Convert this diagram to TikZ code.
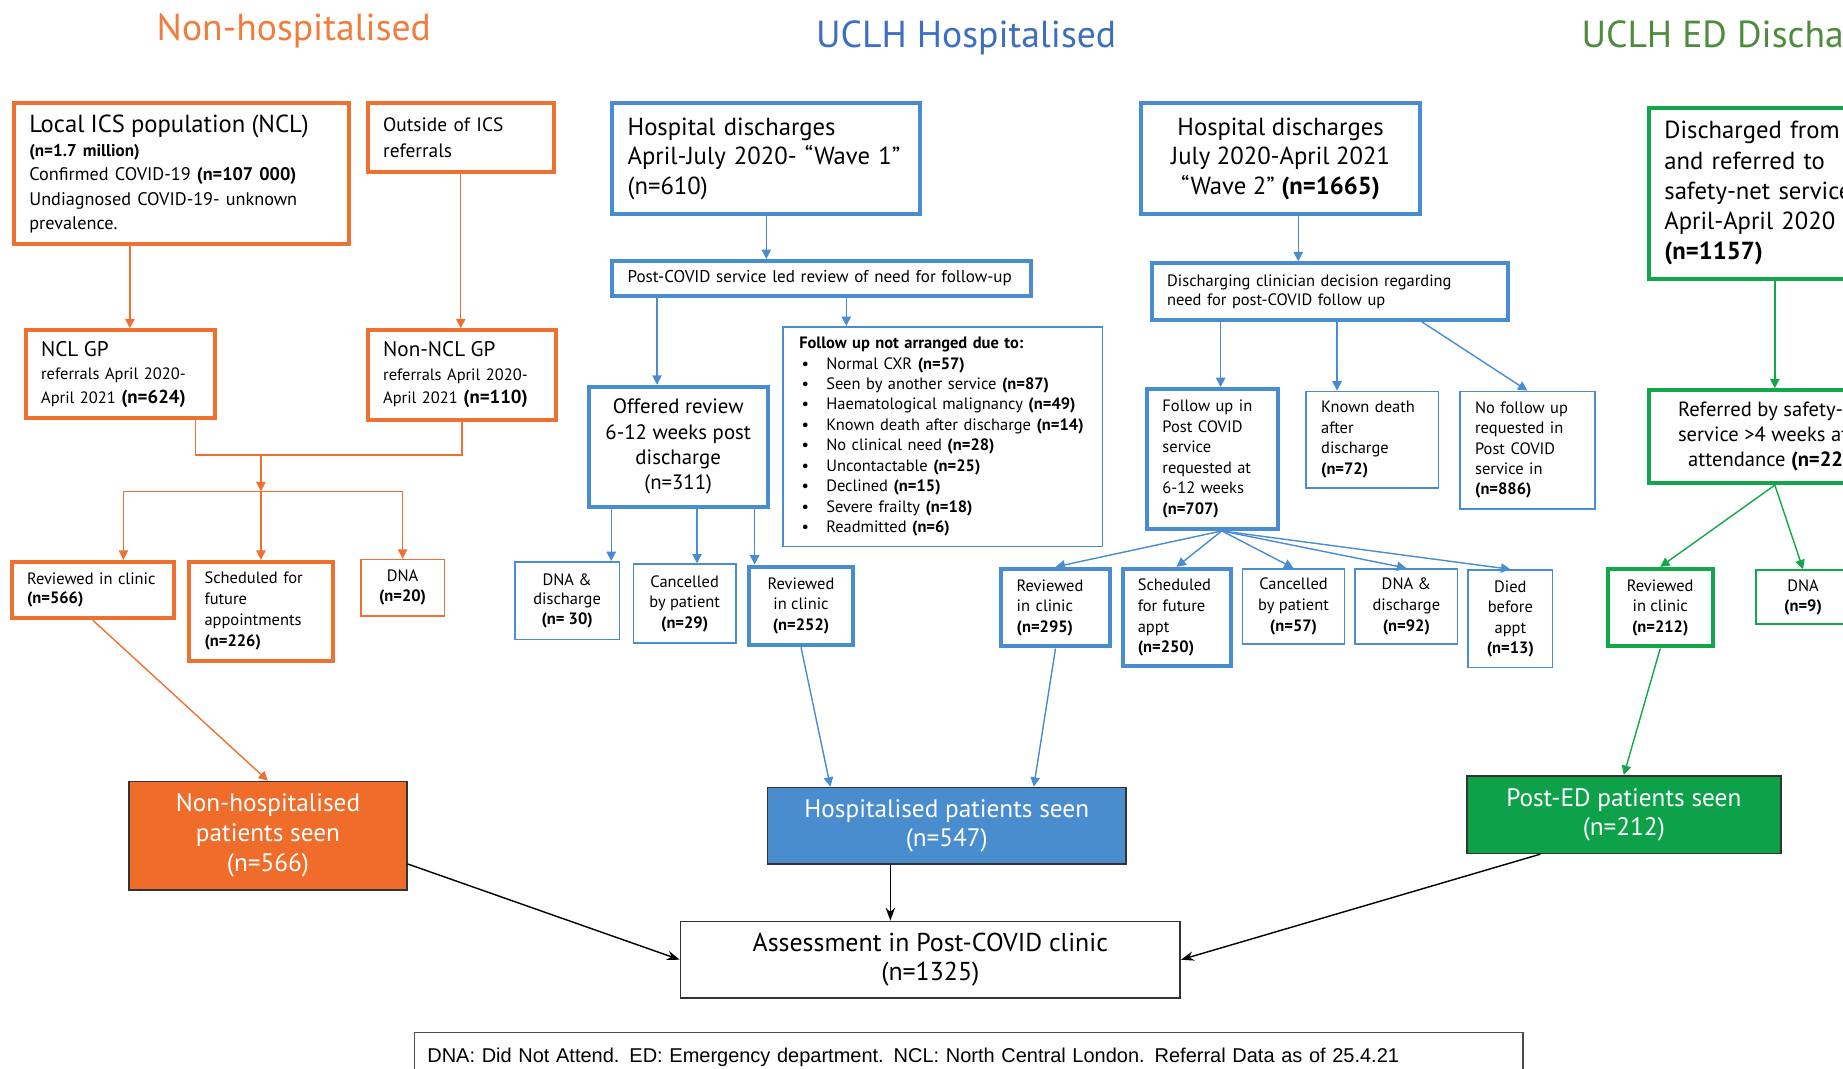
\documentclass[tikz,border=0pt]{standalone}
\usepackage{fontspec}
\setmainfont{PT Sans}
\newfontfamily\notefont{Liberation Sans}
\usetikzlibrary{arrows.meta, positioning}
\definecolor{nhOrange}{HTML}{EE7131}
\definecolor{nhTitle}{HTML}{F07D3C}
\definecolor{seenOrange}{HTML}{F06C2A}
\definecolor{uhBlue}{HTML}{4A8CD0}
\definecolor{uhTitle}{HTML}{3C6EC2}
\definecolor{seenBlue}{HTML}{4A8DCF}
\definecolor{edGreen}{HTML}{12A84A}
\definecolor{edTitle}{HTML}{4E8B3C}
\definecolor{seenGreen}{HTML}{0DA24A}
\newcommand{\setfs}[2]{\fontsize{#1}{#2}\selectfont}
\tikzset{hbox/.style={draw=#1, line width=3.4pt, fill=white, inner xsep=13pt, inner ysep=0pt},
    lbox/.style={draw=#1, line width=1.3pt, fill=white, inner xsep=13pt, inner ysep=0pt},
    mid/.style={align=center, inner xsep=3pt},
    seenbox/.style={draw=black!80, line width=1.4pt, fill=#1, text=white, align=center, font=\setfs{21.5}{25}},
    flow/.style={draw=#1, line width=1.2pt, -{Triangle[length=8pt,width=8pt]}},
    bare/.style={draw=#1, line width=1.2pt},
    tosum/.style={draw=black, line width=1.2pt, -{Stealth[length=11pt,width=8pt]}},
    headtxt/.style={font=\setfs{32}{34}}}

\begin{document}
\begin{tikzpicture}[x=1pt, y=-1pt]
                 \useasboundingbox (0,0) rectangle (1568,909);
                 \clip (0,0) rectangle (1568,909);

                 \node[headtxt, text=nhTitle] (tnh) at (250,26) {Non-hospitalised};
                 \node[headtxt, text=uhTitle] (tuh) at (822,32) {UCLH Hospitalised};
                 \node[headtxt, text=edTitle, anchor=west] (ted) at (1342,32) {UCLH ED Discharged};

                 % non-hospitalised
                 \node[hbox=nhOrange, minimum width=285, minimum height=120, text width=259pt, align=left, font=\setfs{15.5}{20.5}] (ics) at (154.5,148)
                    {{\setfs{21}{24}Local ICS population (NCL)}\\{\setfs{14.5}{20}\textbf{(n=1.7 million)}}\\Confirmed COVID-19 \textbf{(n=107 000)}\\Undiagnosed COVID-19- unknown\\prevalence.};
                 \node[hbox=nhOrange, minimum width=158, minimum height=58, text width=132pt, align=left, font=\setfs{16.5}{22}] (outside) at (392,117) {Outside of ICS\\referrals};
                 \node[hbox=nhOrange, minimum width=161, minimum height=75, text width=135pt, align=left, font=\setfs{14}{20}] (nclgp) at (102.5,318.5)
                    {{\setfs{18}{20}NCL GP}\\referrals April 2020-\\April 2021 {\setfs{16}{20}\textbf{(n=624)}}};
                 \node[hbox=nhOrange, minimum width=160, minimum height=76, text width=134pt, align=left, font=\setfs{14}{20}] (nonncl) at (393,319)
                    {{\setfs{18}{20}Non-NCL GP}\\referrals April 2020-\\April 2021 {\setfs{16}{20}\textbf{(n=110)}}};
                 \node[hbox=nhOrange, minimum width=138, minimum height=48, text width=112pt, align=left, font=\setfs{14}{16.5}] (revnh) at (79,502) {Reviewed in clinic\\\textbf{(n=566)}};
                 \node[hbox=nhOrange, minimum width=122, minimum height=84, text width=96pt, align=left, font=\setfs{14}{18}] (futnh) at (222,520) {Scheduled for\\future\\appointments\\\textbf{(n=226)}};
                 \node[lbox=nhOrange, mid, minimum width=71, minimum height=48, font=\setfs{14}{17}] (dnanh) at (342.5,500) {DNA\\\textbf{(n=20)}};
                 \node[seenbox=seenOrange, minimum width=236, minimum height=92, font=\setfs{21.5}{25.5}] (nhseen) at (228,711) {Non-hospitalised\\patients seen\\(n=566)};

                 \coordinate (join) at (222,387);
                 \coordinate (split) at (222,418);
                 \draw[flow=nhOrange] ([xshift=-44pt]ics.south) -- ([xshift=-44pt]ics.south |- nclgp.north);
                 \draw[flow=nhOrange] (outside.south) -- (outside.south |- nonncl.north);
                 \draw[bare=nhOrange] ([xshift=64pt]nclgp.south) |- (join) -| (nonncl.south);
                 \draw[flow=nhOrange] (join) -- (split);
                 \draw[bare=nhOrange] ([xshift=26pt]revnh.north |- split) -- (split -| dnanh.north);
                 \draw[flow=nhOrange] ([xshift=26pt]revnh.north |- split) -- ([xshift=26pt]revnh.north);
                 \draw[flow=nhOrange] (split) -- (split |- futnh.north);
                 \draw[flow=nhOrange] (split -| dnanh.north) -- (dnanh.north);
                 \draw[flow=nhOrange] (revnh.south) -- (nhseen.north);

                 % wave 1
                 \node[hbox=uhBlue, minimum width=262, minimum height=94, text width=236pt, align=left, font=\setfs{21}{25}] (wave1) at (652,135)
                    {Hospital discharges\\April-July 2020- “Wave 1”\\(n=610)};
                 \node[hbox=uhBlue, minimum width=356, minimum height=30, text width=330pt, align=left, font=\setfs{14.5}{16}] (svcrev) at (699,237) {Post-COVID service led review of need for follow-up};
                 \node[hbox=uhBlue, mid, minimum width=152, minimum height=102, font=\setfs{17.7}{21.5}] (offer) at (577,380) {Offered review\\6-12 weeks post\\discharge\\(n=311)};
                 \node[lbox=uhBlue, minimum width=272, minimum height=187, text width=244pt, align=left, font=\setfs{14}{17.4}] (notarr) at (802,371.5)
                    {\textbf{Follow up not arranged due to:}\\
                     \makebox[23pt][l]{\hspace{2pt}\textbullet}Normal CXR \textbf{(n=57)}\\
                     \makebox[23pt][l]{\hspace{2pt}\textbullet}Seen by another service \textbf{(n=87)}\\
                     \makebox[23pt][l]{\hspace{2pt}\textbullet}Haematological malignancy \textbf{(n=49)}\\
                     \makebox[23pt][l]{\hspace{2pt}\textbullet}Known death after discharge \textbf{(n=14)}\\
                     \makebox[23pt][l]{\hspace{2pt}\textbullet}No clinical need \textbf{(n=28)}\\
                     \makebox[23pt][l]{\hspace{2pt}\textbullet}Uncontactable \textbf{(n=25)}\\
                     \makebox[23pt][l]{\hspace{2pt}\textbullet}Declined \textbf{(n=15)}\\
                     \makebox[23pt][l]{\hspace{2pt}\textbullet}Severe frailty \textbf{(n=18)}\\
                     \makebox[23pt][l]{\hspace{2pt}\textbullet}Readmitted \textbf{(n=6)}};
                 \node[lbox=uhBlue, mid, minimum width=89, minimum height=66, font=\setfs{14}{16.5}] (dnaA) at (482.5,511) {DNA \&\\discharge\\\textbf{(n= 30)}};
                 \node[lbox=uhBlue, mid, minimum width=87, minimum height=67, font=\setfs{14}{17.5}] (cancA) at (582.5,513.5) {Cancelled\\by patient\\\textbf{(n=29)}};
                 \node[hbox=uhBlue, mid, minimum width=89, minimum height=67, font=\setfs{14}{17.5}] (revA) at (681.5,515.5) {Reviewed\\in clinic\\\textbf{(n=252)}};
                 \node[seenbox=seenBlue, minimum width=305, minimum height=65] (hseen) at (805.5,702.5) {Hospitalised patients seen\\(n=547)};

                 \draw[flow=uhBlue] (wave1.south) -- (wave1.south |- svcrev.north);
                 \draw[flow=uhBlue] ([xshift=-140pt]svcrev.south) -- ([xshift=-140pt]svcrev.south |- offer.north);
                 \draw[flow=uhBlue] ([xshift=21pt]svcrev.south) -- ([xshift=21pt]svcrev.south |- notarr.north);
                 \draw[flow=uhBlue] ([xshift=-57pt]offer.south) -- ([xshift=-57pt]offer.south |- dnaA.north);
                 \draw[flow=uhBlue] ([xshift=16pt]offer.south) -- ([xshift=16pt]offer.south |- cancA.north);
                 \draw[flow=uhBlue] ([xshift=65pt]offer.south) -- ([xshift=65pt]offer.south |- revA.north);
                 \draw[flow=uhBlue] (revA.south) -- ([xshift=-99pt]hseen.north);

                 % wave 2
                 \node[hbox=uhBlue, mid, minimum width=237, minimum height=94, font=\setfs{21}{25}] (wave2) at (1089.5,135)
                    {Hospital discharges\\July 2020-April 2021\\“Wave 2” \textbf{(n=1665)}};
                 \node[hbox=uhBlue, minimum width=303, minimum height=48, text width=277pt, align=left, font=\setfs{14}{16}] (decide) at (1131.5,248)
                    {Discharging clinician decision regarding\\need for post-COVID follow up};
                 \node[hbox=uhBlue, minimum width=111, minimum height=119, text width=85pt, align=left, font=\setfs{14}{17.5}] (fup) at (1031.5,390.5)
                    {Follow up in\\Post COVID\\service\\requested at\\6-12 weeks\\\textbf{(n=707)}};
                 \node[lbox=uhBlue, minimum width=113, minimum height=82, text width=87pt, align=left, font=\setfs{14}{17.7}] (death) at (1167.5,374) {Known death\\after\\discharge\\\textbf{(n=72)}};
                 \node[lbox=uhBlue, minimum width=115, minimum height=100, text width=89pt, align=left, font=\setfs{14}{17.3}] (nofup) at (1299.5,383) {No follow up\\requested in\\Post COVID\\service in\\\textbf{(n=886)}};
                 \node[hbox=uhBlue, minimum width=92, minimum height=66, text width=66pt, align=left, font=\setfs{14}{17.5}] (revB) at (898,517) {Reviewed\\in clinic\\\textbf{(n=295)}};
                 \node[hbox=uhBlue, minimum width=92, minimum height=83, text width=66pt, align=left, font=\setfs{14}{17.7}] (schedB) at (1001,525.5) {Scheduled\\for future\\appt\\\textbf{(n=250)}};
                 \node[lbox=uhBlue, mid, minimum width=87, minimum height=64, font=\setfs{14}{17.5}] (cancB) at (1100.5,516) {Cancelled\\by patient\\\textbf{(n=57)}};
                 \node[lbox=uhBlue, mid, minimum width=87, minimum height=64, font=\setfs{14}{17.5}] (dnaB) at (1196.5,516) {DNA \&\\discharge\\\textbf{(n=92)}};
                 \node[lbox=uhBlue, mid, minimum width=72, minimum height=83, font=\setfs{14}{17.5}] (diedB) at (1285,526.5) {Died\\before\\appt\\\textbf{(n=13)}};

                 \draw[flow=uhBlue] ([xshift=15pt]wave2.south) -- ([xshift=15pt]wave2.south |- decide.north);
                 \draw[flow=uhBlue] ([xshift=-93pt]decide.south) -- ([xshift=-93pt]decide.south |- fup.north);
                 \draw[flow=uhBlue] ([xshift=6pt]decide.south) -- ([xshift=6pt]decide.south |- death.north);
                 \draw[flow=uhBlue] ([xshift=78pt]decide.south) -- (nofup.north);
                 \draw[flow=uhBlue] ([xshift=8pt]fup.south) -- (revB.north);
                 \draw[flow=uhBlue] ([xshift=8pt]fup.south) -- (schedB.north);
                 \draw[flow=uhBlue] ([xshift=8pt]fup.south) -- (cancB.north);
                 \draw[flow=uhBlue] ([xshift=8pt]fup.south) -- (dnaB.north);
                 \draw[flow=uhBlue] ([xshift=8pt]fup.south) -- (diedB.north);
                 \draw[flow=uhBlue] (revB.south) -- ([xshift=74pt]hseen.north);

                 % ED discharges
                 \node[hbox=edGreen, minimum width=214, minimum height=145, text width=188pt, align=left, font=\setfs{21}{25.7}] (edref) at (1510,164.5)
                    {Discharged from ED\\and referred to\\safety-net service\\April-April 2020\\\textbf{(n=1157)}};
                 \node[hbox=edGreen, mid, minimum width=214, minimum height=79, font=\setfs{17.5}{21.5}] (safety) at (1510,371.5)
                    {Referred by safety-net\\service >4 weeks after\\attendance \textbf{(n=221)}};
                 \node[hbox=edGreen, mid, minimum width=89, minimum height=66, font=\setfs{14}{17.5}] (revC) at (1412.5,517) {Reviewed\\in clinic\\\textbf{(n=212)}};
                 \node[lbox=edGreen, mid, minimum width=80, minimum height=46, font=\setfs{14}{17}] (dnaC) at (1534,508) {DNA\\\textbf{(n=9)}};
                 \node[seenbox=seenGreen, minimum width=267, minimum height=66] (edseen) at (1381.5,693) {Post-ED patients seen\\(n=212)};

                 \draw[flow=edGreen] (edref.south) -- (safety.north);
                 \draw[flow=edGreen] (safety.south) -- (revC.north);
                 \draw[flow=edGreen] (safety.south) -- (dnaC.north);
                 \draw[flow=edGreen] (revC.south) -- (edseen.north);

                 % clinic
                 \node[draw=black!80, line width=1.4pt, fill=white, minimum width=425, minimum height=65, align=center, font=\setfs{22}{24.5}] (assess) at (791.5,816.5)
                    {Assessment in Post-COVID clinic\\(n=1325)};
                 \draw[tosum] ([yshift=-24pt]nhseen.east) -- (assess.west);
                 \draw[tosum] ([xshift=-48pt]hseen.south) -- ([xshift=-48pt]hseen.south |- assess.north);
                 \draw[tosum] ([xshift=-71pt]edseen.south) -- (assess.east);

                 \node[draw=black!70, line width=1.2pt, anchor=north west, minimum width=943, inner xsep=11pt, inner ysep=2pt, text width=921pt, align=left,
                    text height=23pt, text depth=30pt, font=\notefont\setfs{17}{19}] (note) at (352,878)
                    {DNA: Did Not Attend. ED: Emergency department. NCL: North Central London. Referral Data as of 25.4.21};
             \end{tikzpicture}
\end{document}
